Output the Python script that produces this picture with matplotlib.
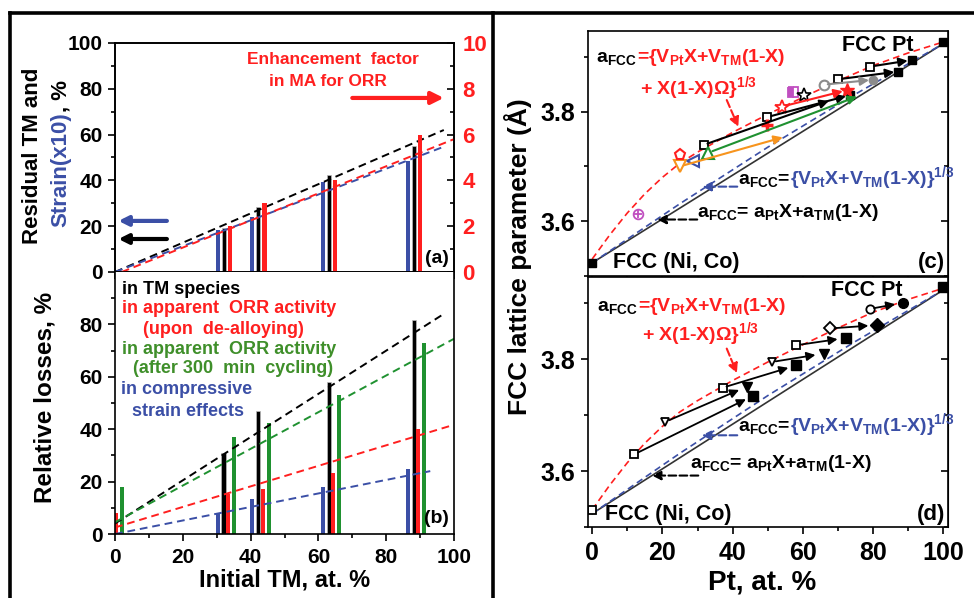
import numpy as np
import matplotlib
matplotlib.use('Agg')
import matplotlib.pyplot as plt
import matplotlib.transforms as mtransforms
from matplotlib.ticker import MultipleLocator, FixedLocator
from matplotlib.lines import Line2D

plt.rcParams['font.family'] = ['Liberation Sans', 'DejaVu Sans']
plt.rcParams['font.weight'] = 'bold'
plt.rcParams['mathtext.fontset'] = 'custom'
plt.rcParams['mathtext.rm'] = 'Liberation Sans:bold'
plt.rcParams['mathtext.it'] = 'Liberation Sans:bold'
plt.rcParams['mathtext.bf'] = 'Liberation Sans:bold'
plt.rcParams['mathtext.sf'] = 'Liberation Sans:bold'
plt.rcParams['mathtext.default'] = 'rm'

RED = '#ff1f1f'
BLUE = '#3b4fa6'
GREEN = '#1f9130'
GREEN_TXT = '#3f8f2a'
ORANGE = '#f7941d'
MAGENTA = '#c04fc0'
GRAY = '#8c8c8c'

# ---- panel (a): residual TM, strain(x10) and enhancement factor
a_tm = [32.2, 42.3, 63.2, 88.2]
a_strain = [18.4, 24.2, 39.5, 48.3]
a_residual = [19.2, 28.3, 42.4, 55.2]
a_enhance = [2.0, 3.0, 4.0, 6.0]
a_fit_x = [0, 97]
a_fit_residual = [0, 62]
a_fit_strain = [0, 54.7]
a_fit_enh_x = [2, 100]
a_fit_enh = [0, 5.8]

# ---- panel (b): relative losses
b_tm = [-1.0, 32.0, 42.2, 63.0, 88.1]
b_strain = [0, 7.9, 13.2, 18.0, 25.0]
b_tm_loss = [0, 31.0, 47.0, 58.0, 81.8]
b_orr_dealloy = [8.1, 15.2, 17.1, 23.1, 39.9]
b_orr_cycling = [18.0, 37.1, 42.2, 53.0, 72.9]
b_fit_tm = ([0, 97], [4.0, 84.0])
b_fit_cycling = ([0, 100], [4.5, 74.5])
b_fit_dealloy = ([0, 99], [2.5, 41.3])
b_fit_strain = ([0, 93], [0.0, 24.0])

# ---- panels (c), (d): lattice parameter vs Pt content
vegard_x = [0, 100]
vegard_y = [3.524, 3.924]
cubic_x = [0, 25, 50, 75, 100]
cubic_y = [3.524, 3.632, 3.735, 3.832, 3.924]
excess_x = [0, 5, 10, 15, 20, 25, 30, 40, 50, 60, 70, 80, 90, 100]
excess_y = [3.531, 3.575, 3.615, 3.650, 3.680, 3.706, 3.726, 3.762, 3.795,
            3.826, 3.856, 3.884, 3.907, 3.927]

# (c) arrows: start -> end
c_x0 = [31.7, 49.9, 70.1, 79.1, 33.1, 25.0, 54.0, 65.9]
c_y0 = [3.739, 3.790, 3.859, 3.882, 3.725, 3.700, 3.809, 3.849]
c_x1 = [68.5, 73.4, 87.2, 91.0, 76.5, 55.4, 72.5, 80.0]
c_y1 = [3.822, 3.830, 3.873, 3.894, 3.830, 3.755, 3.839, 3.858]
c_arrow_colors = ['black', 'black', 'black', 'black', GREEN, ORANGE, RED, GRAY]
# (c) single points
c_filled_sq_x = [0, 73.4, 87.2, 91.0, 100]
c_filled_sq_y = [3.524, 3.830, 3.873, 3.894, 3.926]
c_open_sq_x = [31.7, 49.9, 70.1, 79.1]
c_open_sq_y = [3.739, 3.790, 3.859, 3.882]

# (d) arrows: start -> end
d_x0 = [12.0, 20.8, 37.1, 51.1, 58.1, 67.8, 79.1]
d_y0 = [3.630, 3.688, 3.749, 3.795, 3.825, 3.855, 3.890]
d_x1 = [45.9, 44.0, 58.1, 65.9, 72.2, 81.0, 88.6]
d_y1 = [3.735, 3.751, 3.789, 3.810, 3.838, 3.861, 3.901]
d_markers = ['s', 'v', 's', 'v', 's', 'D', 'o']

fig = plt.figure(figsize=(9.74, 5.98), dpi=100)
W, H = 974.0, 598.0


def px(x, y):
    return x / W, 1 - y / H


def chain_text(ax, x, y, parts, size):
    r = fig.canvas.get_renderer()
    dx = 0
    for s, c in parts:
        tr = mtransforms.offset_copy(ax.transData, fig=fig, x=dx, y=0, units='dots')
        t = ax.text(x, y, s, color=c, transform=tr, ha='left', va='baseline',
                    fontsize=size, fontweight='bold')
        dx += t.get_window_extent(renderer=r).width


def style_ticks(ax, size):
    ax.tick_params(which='both', direction='out', width=1.2, labelsize=size)
    ax.tick_params(which='major', length=5)
    ax.tick_params(which='minor', length=3)
    for s in ax.spines.values():
        s.set_linewidth(1.2)


# ---------------- (a)
ax_a = fig.add_axes([0.1181, 0.5452, 0.348, 0.3829])
bw = 1.2
ax_a.bar(np.array(a_tm) - 1.8, a_strain, width=bw, color=BLUE)
ax_a.bar(a_tm, a_residual, width=bw, color='black', edgecolor='#bbbbbb', linewidth=0.5)
ax_a.plot(a_fit_x, a_fit_residual, color='black', lw=1.4, dashes=(4, 2.5))
ax_a.plot(a_fit_x, a_fit_strain, color=BLUE, lw=1.4, dashes=(4, 2.5))
ax_a.set_xlim(0, 100)
ax_a.set_ylim(0, 100)
ax_a.xaxis.set_major_locator(MultipleLocator(20))
ax_a.xaxis.set_minor_locator(MultipleLocator(10))
ax_a.yaxis.set_major_locator(MultipleLocator(20))
ax_a.yaxis.set_minor_locator(MultipleLocator(10))
style_ticks(ax_a, 15)
ax_a.tick_params(axis='x', labelbottom=False)
ax_a.tick_params(axis='y', pad=4)

ax_a2 = ax_a.twinx()
ax_a2.bar(np.array(a_tm) + 1.8, a_enhance, width=bw, color=RED)
ax_a2.plot(a_fit_enh_x, a_fit_enh, color=RED, lw=1.4, dashes=(4, 2.5))
ax_a2.set_ylim(0, 10)
ax_a2.yaxis.set_major_locator(MultipleLocator(2))
ax_a2.yaxis.set_minor_locator(MultipleLocator(1))
style_ticks(ax_a2, 16)
ax_a2.tick_params(axis='y', which='both', direction='in', labelcolor=RED, pad=6)

ax_a.text(0.643, 0.926, 'Enhancement  factor', color=RED, transform=ax_a.transAxes,
          ha='center', va='center', fontsize=12.5)
ax_a.text(0.627, 0.83, 'in MA for ORR', color=RED, transform=ax_a.transAxes,
          ha='center', va='center', fontsize=12.5)
ax_a.annotate('', xy=(0.97, 0.76), xytext=(0.70, 0.76), xycoords='axes fraction',
              arrowprops=dict(arrowstyle='-|>', color=RED, lw=3, mutation_scale=18,
                              shrinkA=0, shrinkB=0))
ax_a.annotate('', xy=(0.01, 0.223), xytext=(0.153, 0.223), xycoords='axes fraction',
              arrowprops=dict(arrowstyle='-|>', color=BLUE, lw=3, mutation_scale=14,
                              shrinkA=0, shrinkB=0))
ax_a.annotate('', xy=(0.01, 0.144), xytext=(0.153, 0.144), xycoords='axes fraction',
              arrowprops=dict(arrowstyle='-|>', color='black', lw=3, mutation_scale=14,
                              shrinkA=0, shrinkB=0))
ax_a.text(0.985, 0.06, '(a)', transform=ax_a.transAxes, ha='right', va='center', fontsize=14)

# y label of (a), two lines, two colours
fig.text(*px(33, 156), 'Residual TM and', rotation=90, ha='center', va='center', fontsize=16)
r = fig.canvas.get_renderer()
t1 = fig.text(*px(66, 227), 'Strain(x10)', rotation=90, rotation_mode='anchor',
              ha='left', va='baseline', color=BLUE, fontsize=16)
hh = t1.get_window_extent(renderer=r).height
fig.text(*px(66, 227 - hh), ', %', rotation=90, rotation_mode='anchor',
         ha='left', va='baseline', color='black', fontsize=16)

# ---------------- (b)
ax_b = fig.add_axes([0.1181, 0.1070, 0.348, 0.4382])
bt = np.array(b_tm)
ax_b.bar(bt - 1.7, b_strain, width=bw, color=BLUE)
ax_b.bar(bt, b_tm_loss, width=bw, color='black', edgecolor='#bbbbbb', linewidth=0.5)
ax_b.bar(bt + 1.4, b_orr_dealloy, width=bw, color=RED)
ax_b.bar(bt + 3.1, b_orr_cycling, width=bw, color=GREEN)
for (fx, fy), c in [(b_fit_tm, 'black'), (b_fit_cycling, GREEN),
                    (b_fit_dealloy, RED), (b_fit_strain, BLUE)]:
    ax_b.plot(fx, fy, color=c, lw=1.4, dashes=(4, 2.5))
ax_b.set_xlim(0, 100)
ax_b.set_ylim(0, 100)
ax_b.xaxis.set_major_locator(MultipleLocator(20))
ax_b.xaxis.set_minor_locator(MultipleLocator(10))
ax_b.yaxis.set_major_locator(FixedLocator([0, 20, 40, 60, 80]))
ax_b.yaxis.set_minor_locator(FixedLocator([10, 30, 50, 70, 90]))
style_ticks(ax_b, 15)
ax_b.tick_params(axis='x', pad=5)
ax_b.tick_params(axis='y', pad=4)
ax_b.spines['top'].set_visible(False)

legend_lines = [
    ('in TM species', 'black', 0.021, 0.935),
    ('in apparent  ORR activity', RED, 0.021, 0.859),
    ('(upon  de-alloying)', RED, 0.083, 0.782),
    ('in apparent  ORR activity', GREEN_TXT, 0.021, 0.706),
    ('(after 300  min  cycling)', GREEN_TXT, 0.053, 0.630),
    ('in compressive', BLUE, 0.018, 0.550),
    ('strain effects', BLUE, 0.050, 0.469),
]
for s, c, x, y in legend_lines:
    ax_b.text(x, y, s, color=c, transform=ax_b.transAxes, ha='left', va='center',
              fontsize=13)
ax_b.text(0.985, 0.06, '(b)', transform=ax_b.transAxes, ha='right', va='center', fontsize=14)

fig.text(*px(45, 397), 'Relative losses, %', rotation=90, ha='center', va='center',
         fontsize=17.5)
fig.text(*px(285, 580), 'Initial TM, at. %', ha='center', va='center', fontsize=17)

# ---------------- (c) and (d)
ax_c = fig.add_axes([0.6037, 0.5385, 0.3696, 0.4097])
ax_d = fig.add_axes([0.6037, 0.1187, 0.3696, 0.4181])

for ax in (ax_c, ax_d):
    ax.plot(vegard_x, vegard_y, color='#333333', lw=1.2)
    ax.plot(cubic_x, cubic_y, color=BLUE, lw=1.2, dashes=(4, 2.5))
    ax.plot(excess_x, excess_y, color=RED, lw=1.2, dashes=(4, 2.5))
    ax.set_xlim(-1.2, 101.3)
    ax.set_ylim(3.50, 3.947)
    ax.xaxis.set_major_locator(MultipleLocator(20))
    ax.xaxis.set_minor_locator(MultipleLocator(10))
    ax.yaxis.set_major_locator(FixedLocator([3.6, 3.8]))
    ax.yaxis.set_minor_locator(FixedLocator([3.5, 3.7, 3.9]))
    style_ticks(ax, 18)
    ax.tick_params(axis='y', pad=4)
    ax.tick_params(axis='x', pad=5)
    sec = ax.secondary_yaxis('right')
    sec.yaxis.set_major_locator(FixedLocator([3.6, 3.8]))
    sec.yaxis.set_minor_locator(FixedLocator([3.5, 3.7, 3.9]))
    sec.tick_params(which='both', direction='in', labelright=False, width=1.2)
    sec.tick_params(which='major', length=5)
    sec.tick_params(which='minor', length=3)

ax_c.tick_params(axis='x', labelbottom=False)

# (c) arrows and markers
for x0, y0, x1, y1, c in zip(c_x0, c_y0, c_x1, c_y1, c_arrow_colors):
    ax_c.annotate('', xy=(x1, y1), xytext=(x0, y0),
                  arrowprops=dict(arrowstyle='-|>', color=c, lw=1.5, mutation_scale=13,
                                  shrinkA=3, shrinkB=3))
ax_c.plot(c_filled_sq_x, c_filled_sq_y, 's', color='black', ms=6, ls='none')
ax_c.plot(c_open_sq_x, c_open_sq_y, 's', mfc='white', mec='black', mew=1.3, ms=6, ls='none')
ax_c.plot(c_x0[4], c_y0[4], '^', mfc='white', mec=GREEN, mew=1.5, ms=8)
ax_c.plot(c_x0[5], c_y0[5], 'v', mfc='white', mec=ORANGE, mew=1.5, ms=8)
ax_c.plot(28.8, 3.709, '<', mfc='white', mec=BLUE, mew=1.5, ms=8)
ax_c.plot(25.0, 3.721, 'p', mfc='white', mec=RED, mew=1.5, ms=8)
ax_c.plot(12.9, 3.613, 'o', mfc='none', mec=MAGENTA, mew=1.3, ms=7)
ax_c.plot(12.9, 3.613, '+', color=MAGENTA, mew=1.3, ms=6)
ax_c.plot(49.9, 3.776, '+', color=RED, mew=2.5, ms=9)
ax_c.plot(c_x0[6], c_y0[6], '*', mfc='white', mec=RED, mew=1.3, ms=10)
ax_c.plot(c_x1[6], c_y1[6], '*', color=RED, ms=10)
ax_c.plot(57.3, 3.836, 's', color=MAGENTA, fillstyle='left', mfc=MAGENTA,
          mfcalt='white', mew=1.3, ms=7)
ax_c.plot(60.2, 3.830, '*', mfc='white', mec='black', mew=1.2, ms=10)
ax_c.plot(c_x0[7], c_y0[7], 'o', mfc='white', mec=GRAY, mew=1.5, ms=7)
ax_c.plot(c_x1[7], c_y1[7], 'o', color=GRAY, ms=6)

# (d) arrows and markers
for x0, y0, x1, y1, m in zip(d_x0, d_y0, d_x1, d_y1, d_markers):
    ax_d.annotate('', xy=(x1, y1), xytext=(x0, y0),
                  arrowprops=dict(arrowstyle='-|>', color='black', lw=1.3, mutation_scale=13,
                                  shrinkA=3, shrinkB=6))
    ax_d.plot(x0, y0, m, mfc='white', mec='black', mew=1.3, ms=6)
    ax_d.plot(x1, y1, m, color='black', ms=7)
ax_d.plot(0, 3.531, 's', mfc='white', mec='black', mew=1.3, ms=6)
ax_d.plot(100, 3.930, 's', color='black', ms=7)

# formula annotations
panel_text = {
    ax_c: dict(pt=(81.4, 3.921), l1=(1.1, 3.890), l2=(13.7, 3.832), red_arr=((38.3, 3.821), (41.6, 3.772)),
               blue=(41.6, 3.668), blue_arr=((41.3, 3.663), (31.3, 3.663)),
               black=(29.9, 3.607), black_arr=((29.9, 3.603), (18.5, 3.603)),
               nico=(6.0, 3.525), lab='(c)'),
    ax_d: dict(pt=(78.3, 3.923), l1=(1.4, 3.886), l2=(14.2, 3.834), red_arr=((38.3, 3.819), (41.2, 3.775)),
               blue=(41.6, 3.671), blue_arr=((41.3, 3.664), (31.2, 3.664)),
               black=(27.9, 3.605), black_arr=((30.2, 3.592), (17.0, 3.592)),
               nico=(3.7, 3.522), lab='(d)'),
}
for ax, p in panel_text.items():
    ax.text(*p['pt'], 'FCC Pt', ha='center', va='center', fontsize=15.5)
    chain_text(ax, *p['l1'], [('a$_{FCC}$', 'black'), ('={V$_{Pt}$X+V$_{TM}$(1-X)', RED)], 14)
    chain_text(ax, *p['l2'], [('+ X(1-X)Ω}$^{1/3}$', RED)], 14)
    (sx, sy), (ex, ey) = p['red_arr']
    ax.annotate('', xy=(ex, ey), xytext=(sx, sy),
                arrowprops=dict(arrowstyle='-|>', color=RED, lw=1.5, ls='--',
                                mutation_scale=14, shrinkA=0, shrinkB=0))
    chain_text(ax, *p['blue'], [('a$_{FCC}$=', 'black'), ('{V$_{Pt}$X+V$_{TM}$(1-X)}$^{1/3}$', BLUE)], 14)
    (sx, sy), (ex, ey) = p['blue_arr']
    ax.annotate('', xy=(ex, ey), xytext=(sx, sy),
                arrowprops=dict(arrowstyle='-|>', color=BLUE, lw=1.5, ls='--',
                                mutation_scale=13, shrinkA=0, shrinkB=0))
    chain_text(ax, *p['black'], [('a$_{FCC}$= a$_{Pt}$X+a$_{TM}$(1-X)', 'black')], 14)
    (sx, sy), (ex, ey) = p['black_arr']
    ax.annotate('', xy=(ex, ey), xytext=(sx, sy),
                arrowprops=dict(arrowstyle='-|>', color='black', lw=1.5, ls='--',
                                mutation_scale=13, shrinkA=0, shrinkB=0))
    ax.text(*p['nico'], 'FCC (Ni, Co)', ha='left', va='center', fontsize=15.5)
    ax.text(100.5, p['nico'][1], p['lab'], ha='right', va='center', fontsize=16)

fig.text(*px(518, 257), 'FCC lattice parameter (Å)', rotation=90, ha='center', va='center',
         fontsize=19)
fig.text(*px(762, 582), 'Pt, at. %', ha='center', va='center', fontsize=20)

# frame lines of the composite figure
for xs, ys in [((10, 974), (12.5, 12.5)), ((10, 10), (12.5, 598)), ((493, 493), (12.5, 598))]:
    fig.add_artist(Line2D([x / W for x in xs], [1 - y / H for y in ys],
                          transform=fig.transFigure, color='black', lw=2.6))

fig.savefig('out.png', dpi=100)
